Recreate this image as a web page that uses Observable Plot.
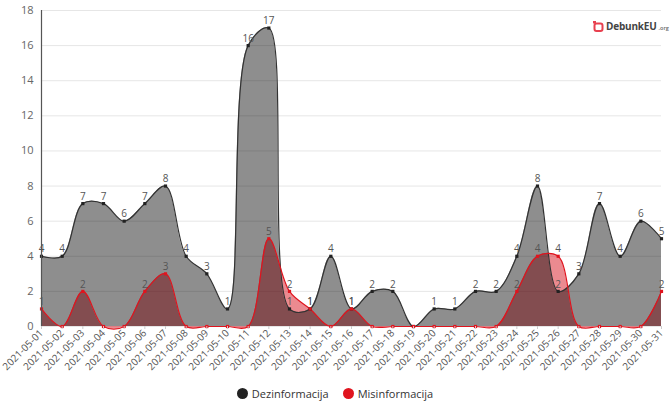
<!DOCTYPE html>
<html>
<head>
<meta charset="utf-8">
<script src="https://cdn.jsdelivr.net/npm/d3@7"></script>
<script src="https://cdn.jsdelivr.net/npm/@observablehq/plot@0.6"></script>
<style>
  html, body { margin: 0; padding: 0; background: #fff; }
  body { width: 670px; height: 402px; position: relative; font-family: "Open Sans", sans-serif; overflow: hidden; }
  #chart { position: absolute; left: 0; top: 0; }
  #legend { position: absolute; left: 0; top: 384px; width: 670px; height: 18px; display: flex; justify-content: center; align-items: center; gap: 14px; font-size: 11px; color: #333; }
  .item { display: flex; align-items: center; gap: 4px; }
  .dot { width: 11px; height: 11px; border-radius: 50%; display: inline-block; }
  #logo { position: absolute; left: 593px; top: 19px; display: flex; align-items: center; gap: 2px; font-family: "Open Sans", sans-serif; white-space: nowrap; }
  #logo .name { font-size: 10px; font-weight: 700; color: #444; letter-spacing: -0.2px; }
  #logo .org { font-size: 5.5px; color: #666; font-weight: 600; margin-top: 3px; }
</style>
</head>
<body>
<div id="chart"></div>
<div id="logo">
  <svg width="11" height="11" viewBox="0 0 11 11"><rect x="1.5" y="2.5" width="8" height="7.5" rx="2" fill="none" stroke="#e8404f" stroke-width="2"/><rect x="0" y="0" width="3" height="2.5" fill="#e8404f"/></svg>
  <span class="name">DebunkEU</span><span class="org">.org</span>
</div>
<div id="legend">
  <span class="item"><span class="dot" style="background:#222"></span>Dezinformacija</span>
  <span class="item"><span class="dot" style="background:#e0141e"></span>Misinformacija</span>
</div>
<script>
const dates = ["2021-05-01","2021-05-02","2021-05-03","2021-05-04","2021-05-05","2021-05-06","2021-05-07","2021-05-08","2021-05-09","2021-05-10","2021-05-11","2021-05-12","2021-05-13","2021-05-14","2021-05-15","2021-05-16","2021-05-17","2021-05-18","2021-05-19","2021-05-20","2021-05-21","2021-05-22","2021-05-23","2021-05-24","2021-05-25","2021-05-26","2021-05-27","2021-05-28","2021-05-29","2021-05-30","2021-05-31"];
const dezinformacija = [4,4,7,7,6,7,8,4,3,1,16,17,1,1,4,1,2,2,0,1,1,2,2,4,8,2,3,7,4,6,5];
const misinformacija = [1,0,2,0,0,2,3,0,0,0,0,5,2,1,0,1,0,0,0,0,0,0,0,2,4,4,0,0,0,0,2];
const yTicks = [0,2,4,6,8,10,12,14,16,18];
const seriesNames = ["Dezinformacija","Misinformacija"];

const parse = d3.utcParse("%Y-%m-%d");
const xs = dates.map(parse);
const dez = xs.map((x, i) => ({x, v: dezinformacija[i]}));
const mis = xs.map((x, i) => ({x, v: misinformacija[i]}));

const chart = Plot.plot({
  width: 670,
  height: 384,
  marginLeft: 41,
  marginRight: 9,
  marginTop: 10,
  marginBottom: 58,
  style: {fontFamily: "Open Sans, sans-serif", background: "#fff"},
  x: {type: "utc", domain: [xs[0], xs[xs.length - 1]]},
  y: {domain: [0, 18]},
  marks: [
    Plot.gridY(yTicks, {stroke: "#e6e6e6", strokeOpacity: 1}),
    Plot.areaY(mis, {x: "x", y: "v", curve: "catmull-rom", fill: "#d71521", fillOpacity: 0.5}),
    Plot.areaY(dez, {x: "x", y: "v", curve: "catmull-rom", fill: "#000", fillOpacity: 0.443}),
    Plot.lineY(dez, {x: "x", y: "v", curve: "catmull-rom", stroke: "#333", strokeWidth: 1.2}),
    Plot.lineY(mis, {x: "x", y: "v", curve: "catmull-rom", stroke: "#e0141e", strokeWidth: 1.2}),
    Plot.dot(dez, {x: "x", y: "v", r: 1.8, fill: "#222", symbol: "square"}),
    Plot.dot(mis, {x: "x", y: "v", r: 1.8, fill: "#e0141e", symbol: "square"}),
    Plot.text(dez.filter(d => d.v > 0), {x: "x", y: "v", text: d => String(d.v), dy: -7, fontSize: 10, fill: "#555"}),
    Plot.text(mis.filter(d => d.v > 0), {x: "x", y: "v", text: d => String(d.v), dy: -7, fontSize: 10, fill: "#555"}),
    Plot.axisY(yTicks, {tickSize: 0, tickPadding: 8, fontSize: 11, color: "#666", label: null}),
    Plot.ruleX([xs[0]], {stroke: "#555", strokeWidth: 1.2}),
    Plot.axisX(xs, {tickFormat: d3.utcFormat("%Y-%m-%d"), tickRotate: -45, tickSize: 3, tickPadding: 2, fontSize: 10, color: "#555", stroke: "#ccc", label: null})
  ]
});
document.getElementById("chart").appendChild(chart);
</script>
</body>
</html>
